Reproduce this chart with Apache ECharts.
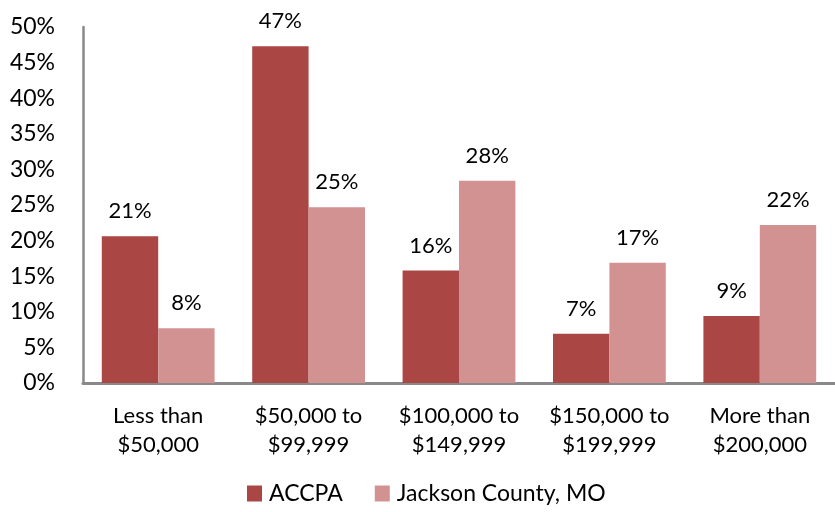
<!DOCTYPE html>
<html>
<head>
<meta charset="utf-8">
<title>Household income</title>
<script src="https://cdn.jsdelivr.net/npm/echarts@6/dist/echarts.min.js"></script>
<style>
  html, body { margin: 0; padding: 0; background: #fff; }
  #chart { width: 835px; height: 512px; }
</style>
</head>
<body>
<div id="chart"></div>
<script>
// income brackets
var categories = ['Less than\n$50,000', '$50,000 to\n$99,999', '$100,000 to\n$149,999', '$150,000 to\n$199,999', 'More than\n$200,000'];
// shares in percent
var accpa = [20.6, 47.3, 15.8, 6.9, 9.4];
var jackson = [7.7, 24.7, 28.4, 16.9, 22.2];
var seriesNames = ['ACCPA', 'Jackson County, MO'];

var font = 'Lato, "Open Sans", sans-serif';

var chart = echarts.init(document.getElementById('chart'));
function pctLabel(p) { return Math.round(p.value) + '%'; }

chart.setOption({
    animation: false,
    textStyle: { fontFamily: font },
    grid: { left: 83, right: 0, top: 27, bottom: 129 },
    legend: {
        top: 482,
        left: 247,
        padding: 0,
        itemWidth: 15,
        itemHeight: 16,
        itemGap: 32,
        icon: 'rect',
        textStyle: { fontSize: 23, color: '#000', fontFamily: font, padding: [0, 0, 0, 2] },
        data: seriesNames
    },
    xAxis: {
        type: 'category',
        data: categories,
        axisLine: { lineStyle: { color: '#898989', width: 3 } },
        axisTick: { show: false },
        axisLabel: { color: '#000', fontSize: 22, lineHeight: 29, margin: 18, interval: 0 }
    },
    yAxis: {
        type: 'value',
        min: 0,
        max: 50,
        interval: 5,
        axisLine: { show: true, lineStyle: { color: '#898989', width: 2.5 } },
        axisTick: { show: false },
        splitLine: { show: false },
        axisLabel: { color: '#000', fontSize: 23, margin: 28, formatter: '{value}%' }
    },
    series: [
        {
            name: seriesNames[0],
            type: 'bar',
            data: accpa,
            barGap: '0%',
            barCategoryGap: '25%',
            itemStyle: { color: '#AA4644' },
            label: { show: true, position: 'top', distance: 14, color: '#000', fontSize: 22, formatter: pctLabel }
        },
        {
            name: seriesNames[1],
            type: 'bar',
            data: jackson,
            itemStyle: { color: '#D39292' },
            label: { show: true, position: 'top', distance: 14, color: '#000', fontSize: 22, formatter: pctLabel }
        }
    ]
});
</script>
</body>
</html>
